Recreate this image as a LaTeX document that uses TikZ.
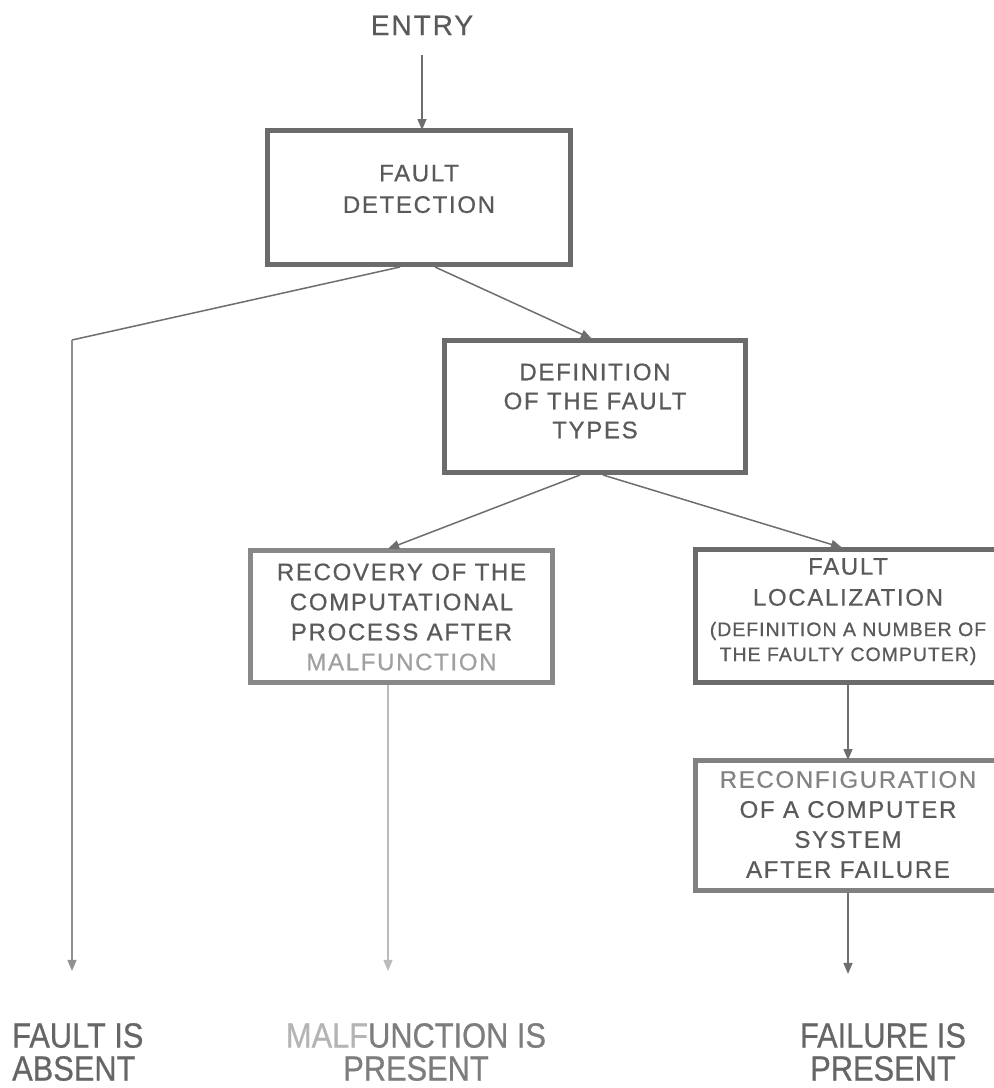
\documentclass[tikz,border=0pt]{standalone}
\usepackage{fontspec}
\setmainfont{Liberation Sans}
\newfontfamily\boxfnt[LetterSpace=7,FakeBold=0.6]{Liberation Sans}
\newfontfamily\smallfnt[LetterSpace=5,FakeBold=0.6]{Liberation Sans}
\newfontfamily\botfnt[FakeStretch=0.88,FakeBold=0.6]{Liberation Sans}
\usetikzlibrary{arrows.meta}
\definecolor{txt}{HTML}{5A5A5A}
\definecolor{frame}{HTML}{6B6B6B}
\definecolor{frameL}{HTML}{888888}
\definecolor{lin}{HTML}{6E6E6E}
\definecolor{linL}{HTML}{909090}
\definecolor{linXL}{HTML}{BBBBBB}
\definecolor{fade}{HTML}{A0A0A0}
\definecolor{fadeXL}{HTML}{B4B4B4}
\definecolor{botc}{HTML}{666666}
\begin{document}
\begin{tikzpicture}[x=1pt,y=-1pt,
  box/.style={draw=frame, line width=5pt, rectangle, inner sep=0pt},
  btxt/.style={text=txt, align=center, inner sep=0pt, font=\boxfnt\fontsize{24}{30}\selectfont},
  bot/.style={text=botc, inner sep=0pt, font=\botfnt\fontsize{35}{33}\selectfont},
  arr/.style={draw=lin, line width=1.5pt, -{Triangle[length=11pt,width=9pt]}},
  ln/.style={draw=lin, line width=1.5pt}
]
\useasboundingbox (0,0) rectangle (994,1088);
\clip (0,0) rectangle (994,1088);
\fill[white] (0,0) rectangle (994,1088);

% boxes
\node[box, minimum width=303pt, minimum height=134pt] (b1) at (419,197.5) {};
\node[box, minimum width=301pt, minimum height=132pt] (b2) at (595,406.5) {};
\node[box, draw=frameL, minimum width=302pt, minimum height=132pt] (b3) at (401.5,616.5) {};
\node[box, minimum width=305pt, minimum height=133pt] (b4) at (848,616) {};
\node[box, draw=frame!85!white, minimum width=305pt, minimum height=130pt] (b5) at (848,825.5) {};

% texts
\node[text=txt, inner sep=0pt, anchor=base, font=\boxfnt\fontsize{28}{30}\selectfont] (entry) at (422,35) {ENTRY};
\node[btxt, font=\boxfnt\fontsize{24}{31.5}\selectfont] (t1) at (419,189) {FAULT\\DETECTION};
\node[btxt, font=\boxfnt\fontsize{24}{29}\selectfont] (t2) at (595,401) {DEFINITION\\OF THE FAULT\\TYPES};
\node[btxt] (t3) at (401.5,617) {RECOVERY OF THE\\COMPUTATIONAL\\PROCESS AFTER\\\textcolor{fade}{MALFUNCTION}};
\node[btxt, font=\boxfnt\fontsize{24}{31}\selectfont] (t4a) at (848,582) {FAULT\\LOCALIZATION};
\node[btxt, font=\smallfnt\fontsize{19.5}{25}\selectfont] (t4b) at (848,643.5) {(DEFINITION A NUMBER OF\\THE FAULTY COMPUTER)};
\node[btxt] (t5) at (848,824.5) {\textcolor{txt!75!white}{RECONFIGURATION}\\OF A COMPUTER\\SYSTEM\\AFTER FAILURE};

% bottom labels
\node[bot, align=left, anchor=west] (lab1) at (12,1052) {FAULT IS\\ABSENT};
\node[bot, align=center, text=botc!85!white] (lab2) at (416,1052) {\textcolor{fadeXL}{MALF}UNCTION IS\\PRESENT};
\node[bot, align=center] (lab3) at (883,1052) {FAILURE IS\\PRESENT};

% helper coordinates
\coordinate (cl) at (72,340);
\coordinate (mx) at (388,0);

% connectors
\draw[arr, shorten <=20pt, shorten >=-2pt] (entry.south) -- (entry.south |- b1.north);
\draw[ln] ([xshift=-19pt]b1.south) -- (cl);
\draw[arr, draw=linL, shorten >=52pt] (cl) -- (cl |- lab1.north);
\draw[arr, shorten >=-2pt] ([xshift=16pt]b1.south) -- ([xshift=-5pt]b2.north);
\draw[arr, shorten >=-2pt] ([xshift=-15pt]b2.south) -- ([xshift=-11.5pt]b3.north);
\draw[arr, shorten >=-2pt] ([xshift=8pt]b2.south) -- ([xshift=-8pt]b4.north);
\draw[arr, shorten >=-2pt] (b4.south) -- (b5.north);
\draw[arr, draw=linXL, line width=1.2pt, shorten >=52pt] (b3.south -| mx) -- (mx |- lab2.north);
\draw[arr, shorten >=49pt] (b5.south) -- (b5.south |- lab3.north);
\end{tikzpicture}
\end{document}
